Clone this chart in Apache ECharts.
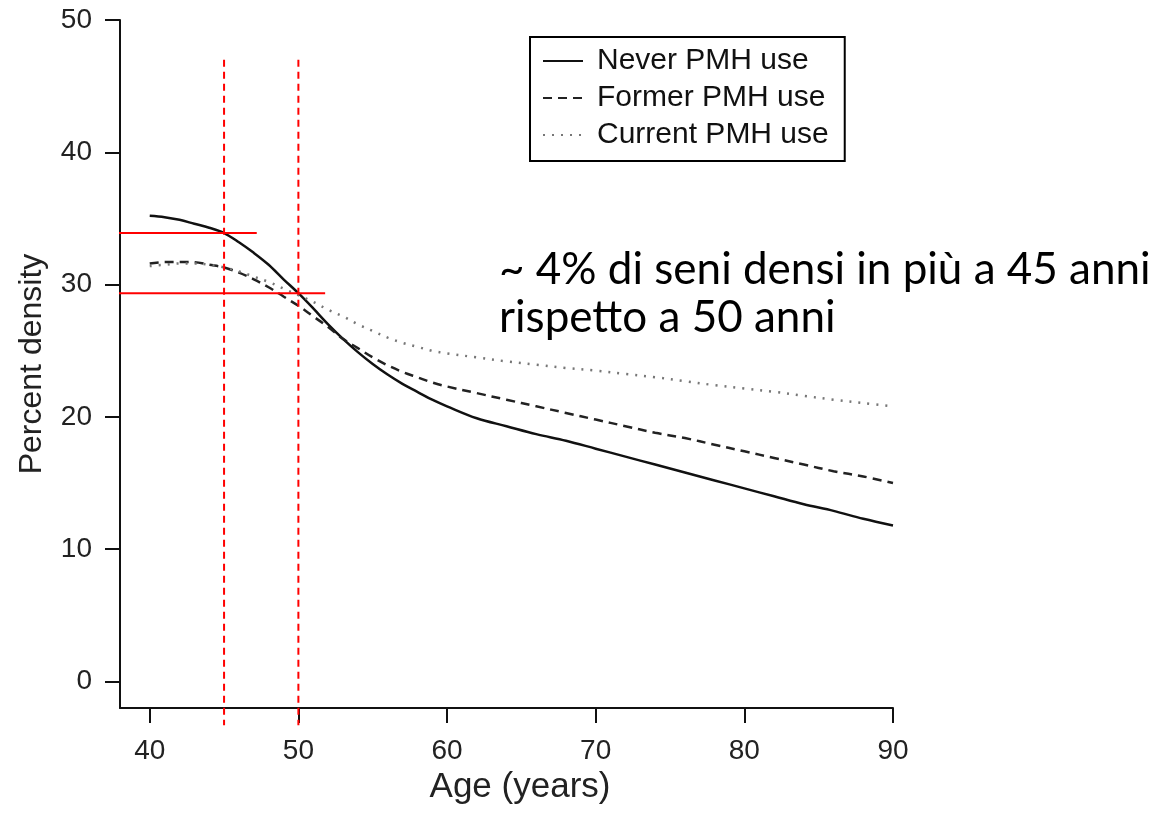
<!DOCTYPE html>
<html>
<head>
<meta charset="utf-8">
<script src="https://cdn.jsdelivr.net/npm/echarts@6/dist/echarts.min.js"></script>
<style>html,body{margin:0;padding:0;background:#fff}#c{width:1165px;height:816px}</style>
</head>
<body>
<div id="c"></div>
<script>
// ---- data ----
const ages = [40,41,42,43,44,45,46,47,48,49,50,51,52,53,54,55,56,57,58,59,60,62,64,66,68,70,72,74,76,78,80,82,84,86,88,90];
const neverPMH = [35.2,35.1,34.9,34.6,34.3,33.9,33.2,32.4,31.5,30.4,29.35,28.2,27.0,25.9,24.9,24.0,23.2,22.5,21.9,21.3,20.8,19.9,19.3,18.7,18.2,17.6,17.0,16.4,15.8,15.2,14.6,14.0,13.4,12.9,12.3,11.8];
const formerPMH = [31.6,31.7,31.7,31.7,31.5,31.3,30.9,30.4,29.8,29.1,28.4,27.6,26.8,25.9,25.2,24.5,23.9,23.4,23.0,22.6,22.3,21.8,21.3,20.8,20.3,19.8,19.3,18.8,18.4,17.9,17.4,16.9,16.4,15.9,15.5,15.0];
const currentPMH = [31.4,31.5,31.6,31.6,31.5,31.3,31.0,30.6,30.2,29.7,29.2,28.7,28.1,27.6,27.0,26.5,26.0,25.6,25.3,25.0,24.8,24.5,24.2,23.95,23.7,23.5,23.25,23.0,22.7,22.4,22.15,21.9,21.6,21.3,21.05,20.8];
const seriesNames = ['Never PMH use','Former PMH use','Current PMH use'];
const xTicks = [40,50,60,70,80,90];
const yTicks = [0,10,20,30,40,50];
// reference guide lines (red)
const vGuide45 = [[45,47],[45,-3.3]];
const vGuide50 = [[50,47],[50,-3.3]];
const hGuide45 = [[36,33.9],[47.2,33.9]];
const hGuide50 = [[36.65,29.35],[51.8,29.35]];
const annotation = '~ 4% di seni densi in più a 45 anni\nrispetto a 50 anni';
const xName = 'Age (years)';
const yName = 'Percent density';

const zip = (xs, ys) => xs.map((x, i) => [x, ys[i]]);
const font = 'Liberation Sans, Arial, Helvetica, sans-serif';

const chart = echarts.init(document.getElementById('c'), null, {renderer: 'canvas'});
const redLine = (data, dashed) => ({
  type: 'line', data, symbol: 'none', clip: false, silent: true, z: 5,
  lineStyle: {color: '#ff0000', width: 2, type: dashed ? [7,5] : 'solid'},
  emphasis: {disabled: true}
});
chart.setOption({
  animation: false,
  backgroundColor: '#ffffff',
  title: {
    text: annotation,
    left: 494, top: 241,
    textStyle: {fontFamily: 'Lato, Open Sans, sans-serif', fontWeight: 'normal', fontSize: 44, lineHeight: 48, color: '#000'}
  },
  grid: {left: 120, right: 272, top: 20, bottom: 108},
  legend: {
    data: seriesNames,
    orient: 'vertical',
    left: 530, top: 37,
    itemWidth: 40, itemHeight: 14, itemGap: 7,
    padding: [9, 16, 11, 12],
    borderColor: '#000', borderWidth: 2,
    backgroundColor: '#fff',
    itemStyle: {opacity: 0},
    textStyle: {fontFamily: font, fontSize: 30, color: '#111', lineHeight: 30, padding: [0,0,0,9]}
  },
  xAxis: {
    type: 'value', min: 38, max: 90,
    name: xName, nameLocation: 'middle', nameGap: 50,
    nameTextStyle: {fontFamily: font, fontSize: 35, color: '#222', padding: [0,0,0,27]},
    axisLine: {show: true, onZero: false, lineStyle: {color: '#111', width: 2}},
    axisTick: {show: true, customValues: xTicks, length: 15, lineStyle: {color: '#111', width: 2}},
    axisLabel: {customValues: xTicks, fontFamily: font, fontSize: 28, color: '#222', margin: 29},
    splitLine: {show: false}
  },
  yAxis: {
    type: 'value', min: -2, max: 50,
    name: yName, nameLocation: 'middle', nameGap: 72, nameRotate: 90,
    nameTextStyle: {fontFamily: font, fontSize: 32, color: '#222'},
    axisLine: {show: true, onZero: false, lineStyle: {color: '#111', width: 2}},
    axisTick: {show: true, customValues: yTicks, length: 15, lineStyle: {color: '#111', width: 2}},
    axisLabel: {customValues: yTicks, fontFamily: font, fontSize: 28, color: '#222', margin: 28},
    splitLine: {show: false}
  },
  series: [
    {name: seriesNames[0], type: 'line', data: zip(ages, neverPMH), symbol: 'none', smooth: 0.35,
     lineStyle: {color: '#111', width: 2.5, type: 'solid'}, itemStyle: {color: '#111'}},
    {name: seriesNames[1], type: 'line', data: zip(ages, formerPMH), symbol: 'none', smooth: 0.35,
     lineStyle: {color: '#222', width: 2.5, type: [9,6]}, itemStyle: {color: '#222'}},
    {name: seriesNames[2], type: 'line', data: zip(ages, currentPMH), symbol: 'none', smooth: 0.35,
     lineStyle: {color: '#777', width: 2.5, type: [2,7]}, itemStyle: {color: '#777'}},
    redLine(vGuide45, true),
    redLine(vGuide50, true),
    redLine(hGuide45, false),
    redLine(hGuide50, false)
  ]
});
</script>
</body>
</html>
